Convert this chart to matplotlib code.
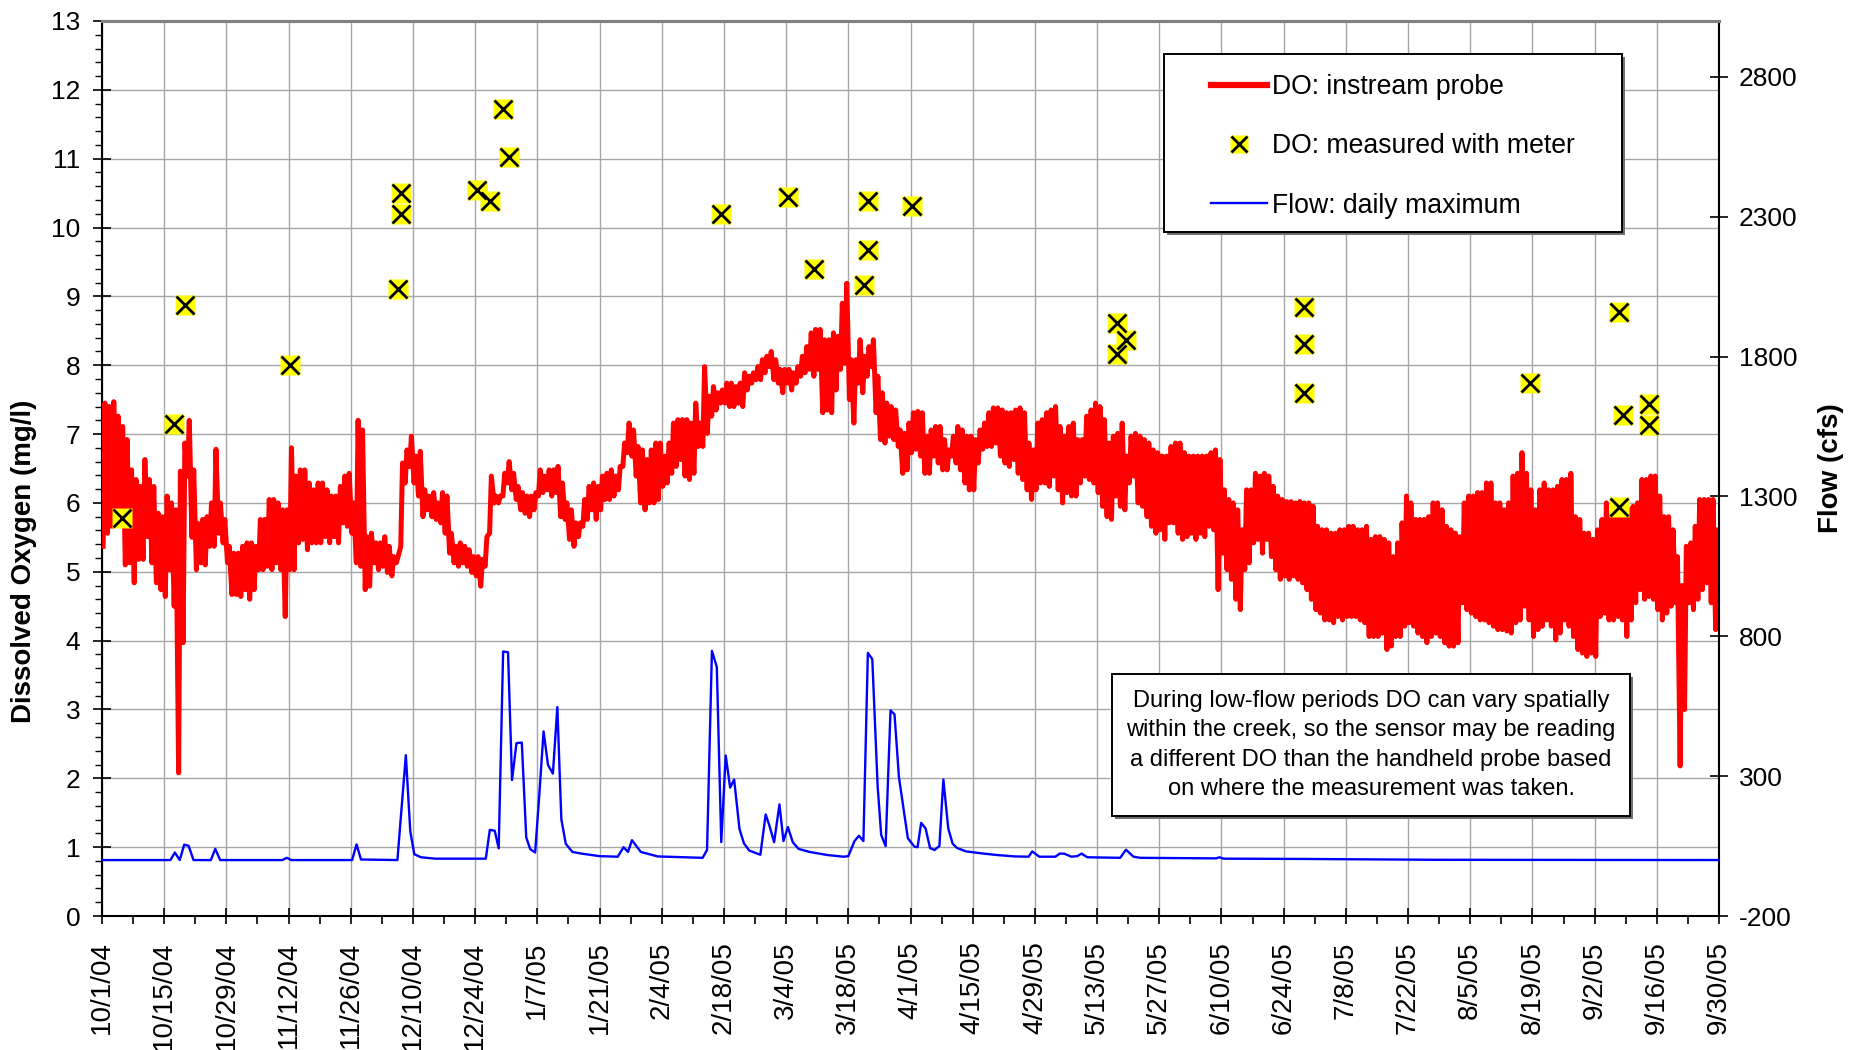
import numpy as np
import matplotlib
matplotlib.use('Agg')
import matplotlib.pyplot as plt
from matplotlib.lines import Line2D
from matplotlib.patches import Rectangle
from matplotlib.ticker import MultipleLocator

plt.rcParams['font.family'] = ['Liberation Sans', 'DejaVu Sans']
plt.rcParams['axes.unicode_minus'] = False

# ---------------- data ----------------
x_tick_labels = ['10/1/04', '10/15/04', '10/29/04', '11/12/04', '11/26/04', '12/10/04',
                 '12/24/04', '1/7/05', '1/21/05', '2/4/05', '2/18/05', '3/4/05', '3/18/05',
                 '4/1/05', '4/15/05', '4/29/05', '5/13/05', '5/27/05', '6/10/05', '6/24/05',
                 '7/8/05', '7/22/05', '8/5/05', '8/19/05', '9/2/05', '9/16/05', '9/30/05']

# instream probe: daily high / low DO (mg/l), day 0 = 10/1/04
do_high = [
    7.45, 7.40, 7.47, 7.26, 7.11, 6.92, 6.48, 6.34, 6.24, 6.63,
    6.34, 6.24, 5.85, 5.80, 6.10, 6.00, 5.90, 6.46, 6.87, 7.20,
    6.48, 5.70, 5.76, 5.80, 6.00, 6.78, 6.00, 5.76, 5.37, 5.27,
    5.27, 5.37, 5.42, 5.42, 5.37, 5.76, 5.76, 6.05, 6.05, 6.00,
    5.90, 5.90, 6.80, 6.39, 6.48, 6.48, 6.29, 6.19, 6.29, 6.29,
    6.19, 6.10, 6.10, 6.24, 6.39, 6.43, 6.00, 7.20, 7.06, 5.51,
    5.56, 5.42, 5.42, 5.51, 5.37, 5.22, 5.22, 6.58, 6.77, 6.97,
    6.68, 6.75, 6.19, 6.10, 6.15, 6.00, 6.15, 6.10, 5.56, 5.37,
    5.42, 5.37, 5.32, 5.22, 5.22, 5.18, 5.51, 6.39, 6.10, 6.10,
    6.43, 6.60, 6.43, 6.24, 6.15, 6.10, 6.10, 6.15, 6.48, 6.39,
    6.48, 6.48, 6.53, 6.29, 6.00, 5.90, 5.71, 5.71, 6.05, 6.24,
    6.29, 6.24, 6.39, 6.43, 6.48, 6.39, 6.53, 6.87, 7.16, 7.06,
    6.82, 6.77, 6.63, 6.77, 6.87, 6.87, 6.68, 6.87, 7.16, 7.21,
    7.21, 7.21, 7.16, 7.45, 7.16, 7.98, 7.55, 7.69, 7.60, 7.64,
    7.74, 7.74, 7.69, 7.74, 7.89, 7.84, 7.89, 7.98, 8.08, 8.13,
    8.20, 8.08, 7.94, 7.94, 7.94, 7.89, 7.98, 8.13, 8.27, 8.47,
    8.52, 8.52, 8.37, 8.37, 8.47, 8.42, 8.90, 9.19, 8.08, 8.08,
    8.37, 8.13, 8.27, 8.37, 7.84, 7.60, 7.45, 7.40, 7.35, 7.06,
    7.01, 7.16, 7.31, 7.33, 7.31, 6.97, 7.06, 7.11, 7.11, 6.92,
    6.77, 6.97, 7.11, 7.06, 6.97, 6.97, 6.92, 7.06, 7.16, 7.31,
    7.38, 7.38, 7.35, 7.31, 7.31, 7.35, 7.38, 7.31, 6.87, 6.77,
    7.16, 7.21, 7.31, 7.35, 7.40, 7.11, 6.97, 7.11, 7.16, 6.92,
    6.92, 7.26, 7.35, 7.45, 7.40, 7.21, 6.87, 6.97, 7.01, 7.16,
    6.68, 6.97, 7.01, 6.97, 6.92, 6.87, 6.77, 6.73, 6.68, 6.68,
    6.82, 6.87, 6.87, 6.73, 6.68, 6.68, 6.68, 6.68, 6.68, 6.73,
    6.77, 6.63, 6.19, 6.05, 6.00, 5.90, 5.61, 6.19, 6.19, 6.43,
    6.39, 6.43, 6.39, 6.24, 6.10, 6.05, 6.02, 6.02, 6.00, 6.02,
    6.00, 6.00, 5.95, 5.66, 5.61, 5.61, 5.56, 5.56, 5.61, 5.61,
    5.66, 5.66, 5.61, 5.61, 5.66, 5.47, 5.51, 5.51, 5.47, 5.42,
    5.22, 5.42, 5.71, 6.10, 6.00, 5.76, 5.76, 5.76, 5.80, 6.00,
    6.00, 5.90, 5.66, 5.61, 5.56, 5.51, 6.00, 6.10, 6.10, 6.15,
    6.15, 6.29, 6.29, 6.00, 6.00, 5.90, 6.00, 6.39, 6.43, 6.73,
    6.43, 6.19, 5.90, 6.19, 6.29, 6.19, 6.19, 6.24, 6.34, 6.34,
    6.43, 5.80, 5.76, 5.56, 5.56, 5.47, 5.61, 5.76, 6.00, 5.80,
    6.00, 6.00, 5.90, 5.90, 5.95, 6.00, 6.34, 6.34, 6.39, 6.39,
    6.10, 5.80, 5.80, 5.61, 5.22, 4.80, 5.37, 5.42, 5.66, 6.05,
    6.05, 6.05, 6.05, 5.61, 5.42]

do_low = [
    5.37, 5.56, 5.66, 5.71, 5.80, 5.10, 5.13, 4.84, 5.18, 5.18,
    5.51, 5.13, 4.84, 4.74, 4.64, 5.03, 4.50, 2.08, 3.97, 6.39,
    5.50, 5.03, 5.13, 5.10, 5.37, 5.37, 5.56, 5.42, 5.13, 4.67,
    4.67, 4.64, 4.74, 4.60, 4.74, 5.03, 5.03, 5.08, 5.03, 5.13,
    5.03, 4.35, 5.03, 5.03, 5.42, 5.47, 5.32, 5.42, 5.42, 5.42,
    5.51, 5.42, 5.51, 5.42, 5.71, 5.66, 5.56, 5.13, 5.08, 4.74,
    4.79, 5.13, 5.03, 5.08, 4.99, 4.94, 5.13, 5.37, 6.29, 6.53,
    6.29, 6.10, 5.80, 5.90, 5.80, 5.76, 5.71, 5.56, 5.27, 5.13,
    5.08, 5.13, 5.08, 4.99, 4.94, 4.79, 5.08, 5.56, 6.00, 6.00,
    6.10, 6.29, 6.19, 6.05, 5.90, 5.85, 5.80, 5.90, 6.10, 6.15,
    6.19, 6.10, 6.15, 5.80, 5.76, 5.47, 5.37, 5.51, 5.66, 5.76,
    5.90, 5.76, 5.90, 6.05, 6.05, 6.10, 6.19, 6.53, 6.73, 6.68,
    6.39, 6.00, 5.90, 6.00, 6.00, 6.05, 6.24, 6.29, 6.43, 6.53,
    6.63, 6.39, 6.34, 6.43, 6.82, 6.82, 7.01, 7.26, 7.35, 7.45,
    7.45, 7.40, 7.40, 7.45, 7.40, 7.64, 7.74, 7.79, 7.79, 7.89,
    7.98, 7.79, 7.74, 7.60, 7.74, 7.64, 7.74, 7.84, 7.89, 7.94,
    7.84, 7.94, 7.31, 7.35, 7.31, 7.64, 7.94, 8.03, 7.50, 7.16,
    7.74, 7.60, 7.84, 7.98, 7.31, 6.92, 6.87, 6.97, 6.92, 6.82,
    6.43, 6.48, 6.73, 6.78, 6.68, 6.43, 6.43, 6.68, 6.58, 6.48,
    6.48, 6.68, 6.58, 6.48, 6.29, 6.19, 6.19, 6.58, 6.78, 6.82,
    6.82, 6.87, 6.68, 6.58, 6.53, 6.63, 6.43, 6.34, 6.19, 6.05,
    6.19, 6.29, 6.29, 6.24, 6.39, 6.19, 6.00, 6.15, 6.10, 6.10,
    6.29, 6.39, 6.34, 6.29, 6.15, 5.95, 5.80, 5.76, 6.10, 5.95,
    5.90, 6.29, 6.39, 6.00, 5.95, 5.80, 5.66, 5.56, 5.61, 5.47,
    5.71, 5.71, 5.56, 5.47, 5.51, 5.56, 5.47, 5.56, 5.51, 5.66,
    5.61, 4.74, 5.27, 5.03, 4.89, 4.60, 4.45, 5.03, 5.13, 5.42,
    5.47, 5.27, 5.47, 5.22, 5.03, 4.89, 4.94, 4.89, 4.94, 4.89,
    4.84, 4.74, 4.60, 4.45, 4.40, 4.30, 4.30, 4.26, 4.35, 4.30,
    4.35, 4.35, 4.35, 4.30, 4.26, 4.06, 4.06, 4.06, 4.11, 3.87,
    3.92, 4.06, 4.06, 4.21, 4.26, 4.21, 4.11, 4.06, 3.97, 4.06,
    4.11, 4.06, 3.97, 3.92, 3.92, 3.97, 4.55, 4.45, 4.40, 4.35,
    4.30, 4.30, 4.26, 4.21, 4.16, 4.16, 4.14, 4.11, 4.26, 4.30,
    4.50, 4.30, 4.06, 4.16, 4.21, 4.30, 4.21, 4.01, 4.11, 4.30,
    4.21, 4.06, 3.87, 3.82, 3.77, 3.82, 3.77, 4.35, 4.40, 4.30,
    4.30, 4.35, 4.30, 4.06, 4.30, 4.55, 4.74, 4.60, 4.64, 4.60,
    4.45, 4.30, 4.40, 4.50, 4.55, 2.18, 3.00, 4.55, 4.45, 4.60,
    4.74, 4.84, 4.55, 4.16, 4.26]

# handheld meter measurements (day offset, mg/l)
meas_day = [4.6, 16.2, 18.6, 42.3, 66.6, 67.2, 67.2, 84.5, 87.4, 90.3, 91.6,
            139.4, 154.4, 160.3, 172.5, 172.4, 171.6, 182.4, 228.4, 230.5, 228.4,
            270.5, 270.5, 270.5, 321.5, 341.4, 342.5, 348.2, 348.2, 341.4]
meas_do = [5.78, 7.14, 8.88, 8.01, 9.11, 10.50, 10.19, 10.54, 10.39, 11.72, 11.03,
           10.20, 10.45, 9.40, 10.39, 9.68, 9.16, 10.31, 8.62, 8.37, 8.16,
           8.85, 8.31, 7.60, 7.74, 8.77, 7.28, 7.43, 7.13, 5.94]

# daily maximum flow (day offset, cfs)
flow_day = [0, 15.4, 16.4, 17.5, 18.5, 19.5, 20.6, 24.5, 25.5, 26.6,
            40.6, 41.6, 42.6, 56.3, 57.3, 58.3, 66.5, 67.3, 68.4, 69.4,
            70.3, 71.8, 75, 86.4, 87.3, 88.4, 89.3, 90.3, 91.4, 92.3,
            93.3, 94.5, 95.5, 96.4, 97.5, 98.5, 99.4, 100.4, 101.5, 102.5,
            103.4, 104.4, 105.9, 108, 112, 116.1, 117.4, 118.4, 119.3, 121.3,
            125.1, 135.2, 136.2, 137.3, 138.4, 139.4, 140.4, 141.4, 142.3, 143.5,
            144.5, 145.7, 148.2, 149.4, 150.2, 151.3, 152.5, 153.4, 154.4, 155.5,
            156.8, 159.3, 163.3, 166.9, 168, 169.4, 170.4, 171.4, 172.4, 173.4,
            174.6, 175.4, 176.4, 177.5, 178.4, 179.4, 181.4, 182.9, 183.6, 184.4,
            185.4, 186.4, 187.4, 188.5, 189.4, 190.5, 191.5, 192.5, 194.5, 198.5,
            201.5, 205.5, 208.6, 209.4, 211, 214.6, 215.6, 216.6, 218.2, 219.5,
            220.5, 221.8, 229.2, 230.5, 232.2, 233.7, 250.8, 251.5, 252.5, 270,
            300, 364]
flow_cfs = [0, 0, 27, 0, 55, 51, 0, 0, 40, 0,
            0, 8, 0, 0, 56, 2, 0, 159, 375, 102,
            21, 10, 5, 5, 108, 105, 42, 746, 743, 286,
            418, 420, 81, 39, 27, 247, 460, 340, 309, 547,
            146, 58, 29, 23, 14, 12, 46, 29, 71, 29,
            13, 8, 36, 748, 690, 64, 374, 259, 288, 111,
            60, 34, 19, 163, 125, 64, 199, 68, 118, 64,
            40, 29, 18, 12, 14, 68, 87, 68, 741, 718,
            265, 90, 50, 535, 521, 296, 78, 48, 46, 133,
            113, 43, 36, 50, 288, 113, 58, 43, 31, 23,
            18, 13, 12, 31, 12, 12, 23, 23, 12, 14,
            23, 10, 8, 37, 12, 8, 6, 10, 5, 4,
            1, 0]

legend_labels = ['DO: instream probe', 'DO: measured with meter', 'Flow: daily maximum']
note_text = ("During low-flow periods DO can vary spatially\n"
             "within the creek, so the sensor may be reading\n"
             "a different DO than the handheld probe based\n"
             "on where the measurement was taken.")

# ---------------- figure ----------------
W, H = 1864, 1050
fig = plt.figure(figsize=(W / 100, H / 100), dpi=100)
L, R, T, B = 102, 1719, 21, 916
ax = fig.add_axes([L / W, 1 - B / H, (R - L) / W, (B - T) / H])

days = np.arange(len(do_high))
xs = np.column_stack([days + 0.25, days + 0.65]).ravel()
ys = np.column_stack([do_low, do_high]).ravel()
ax.plot(xs, ys, color='#ff0000', lw=3.6, zorder=3)
ax.plot(meas_day, meas_do, ls='none', marker='s', ms=15, mfc='#ffff00', mec='none', zorder=4)
ax.plot(meas_day, meas_do, ls='none', marker='x', ms=13, mec='black', mew=2.0, zorder=5)

ax.set_xlim(0, 364)
ax.set_ylim(0, 13)
ax.set_xticks(np.arange(0, 365, 14))
ax.set_xticklabels(x_tick_labels, rotation=90)
ax.xaxis.set_minor_locator(MultipleLocator(7))
ax.set_yticks(np.arange(0, 14, 1))
ax.yaxis.set_minor_locator(MultipleLocator(0.2))
ax.grid(True, which='major', color='#a6a6a6', lw=1.0)
ax.set_axisbelow(True)

ax.tick_params(axis='x', which='major', direction='inout', length=11.5, width=1.2,
               labelsize=20, pad=12.5)
ax.tick_params(axis='x', which='minor', direction='out', length=5.8, width=1.2)
ax.tick_params(axis='y', which='major', direction='inout', length=13, width=1.2,
               labelsize=19, pad=9)
ax.tick_params(axis='y', which='minor', direction='out', length=5, width=1.0)

ax2 = ax.twinx()
ax2.plot(flow_day, flow_cfs, color='#0000ff', lw=1.7, zorder=3)
ax2.set_ylim(-200, 3000)
ax2.set_yticks(np.arange(-200, 2801, 500))
ax2.tick_params(axis='y', which='major', direction='inout', length=13.5, width=1.2,
                labelsize=19, pad=7.5)

for a in (ax, ax2):
    a.spines['top'].set_color('#808080')
    a.spines['top'].set_linewidth(2.2)
ax.spines['right'].set_visible(False)
ax2.spines['left'].set_visible(False)
ax2.spines['bottom'].set_visible(False)
for s in ('left', 'bottom'):
    ax.spines[s].set_linewidth(1.5)
ax2.spines['right'].set_linewidth(1.5)

fig.text(24 / W, 1 - 561 / H, 'Dissolved Oxygen (mg/l)', rotation=90, fontsize=20,
         fontweight='bold', ha='center', va='center')
fig.text(1831 / W, 1 - 468 / H, 'Flow (cfs)', rotation=90, fontsize=20,
         fontweight='bold', ha='center', va='center')


def framed_box(x0, y0, x1, y1):
    sh = Rectangle(((x0 + 3) / W, 1 - (y1 + 3) / H), (x1 - x0) / W, (y1 - y0) / H,
                   transform=fig.transFigure, fc='#707070', ec='none', zorder=3.9)
    bx = Rectangle((x0 / W, 1 - y1 / H), (x1 - x0) / W, (y1 - y0) / H,
                   transform=fig.transFigure, fc='white', ec='black', lw=1.4, zorder=4)
    fig.add_artist(sh)
    fig.add_artist(bx)


# legend
framed_box(1164, 54, 1622, 232)
h_probe = Line2D([], [], color='#ff0000', lw=4.5)
h_meas = (Line2D([], [], ls='none', marker='s', ms=13, mfc='#ffff00', mec='none'),
          Line2D([], [], ls='none', marker='x', ms=11, mec='black', mew=2.0))
h_flow = Line2D([], [], color='#0000ff', lw=1.7)
leg = fig.legend([h_probe, h_meas, h_flow], legend_labels, loc='upper left',
                 bbox_to_anchor=(1211 / W, 1 - 74 / H), frameon=False, fontsize=19.2,
                 handlelength=2.1, handletextpad=0.2, labelspacing=1.25,
                 borderpad=0, borderaxespad=0)
leg.set_zorder(5)

# note box
framed_box(1112, 674, 1630, 816)
fig.text(1371 / W, 1 - 745 / H, note_text, ha='center', va='center', fontsize=17.0,
         linespacing=1.42, multialignment='center', zorder=5)

fig.savefig('out.png', dpi=100)
